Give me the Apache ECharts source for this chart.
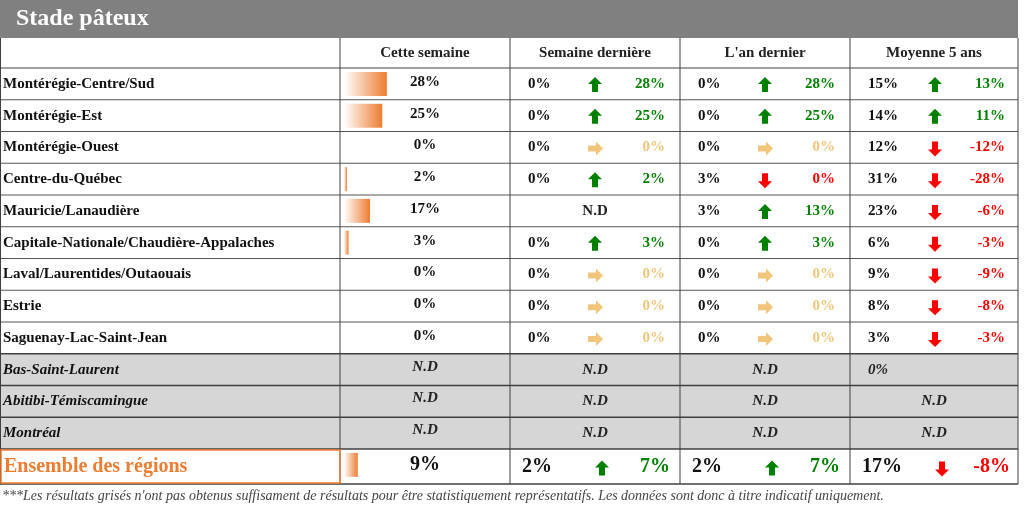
<!DOCTYPE html>
<html><head><meta charset="utf-8">
<script src="https://cdn.jsdelivr.net/npm/echarts@6/dist/echarts.min.js"></script>
<style>html,body{margin:0;padding:0;background:#fff}#c{width:1024px;height:509px}</style>
</head><body><div id="c"></div>
<script>
const regions = ["Montérégie-Centre/Sud","Montérégie-Est","Montérégie-Ouest","Centre-du-Québec","Mauricie/Lanaudière","Capitale-Nationale/Chaudière-Appalaches","Laval/Laurentides/Outaouais","Estrie","Saguenay-Lac-Saint-Jean","Bas-Saint-Laurent","Abitibi-Témiscamingue","Montréal","Ensemble des régions"];
const thisWeek = [28,25,0,2,17,3,0,0,0,null,null,null,9];
const lastWeek = [0,0,0,0,null,0,0,0,0,null,null,null,2];
const diffWeek = [28,25,0,2,null,3,0,0,0,null,null,null,7];
const lastYear = [0,0,0,3,3,0,0,0,0,null,null,null,2];
const diffYear = [28,25,0,0,13,3,0,0,0,null,null,null,7];
const avg5 = [15,14,12,31,23,6,9,8,3,0,null,null,17];
// direction: 1 up, -1 down, 0 flat
const dirWeek = [1,1,0,1,null,1,0,0,0,null,null,null,1];
const dirYear = [1,1,0,-1,1,1,0,0,0,null,null,null,1];
const diff5 = [13,11,-12,-28,-6,-3,-9,-8,-3,null,null,null,-8];
const dir5 = [1,1,-1,-1,-1,-1,-1,-1,-1,null,null,null,-1];
const grayRows = [9,10,11];
const headers = ["Cette semaine","Semaine dernière","L'an dernier","Moyenne 5 ans"];

const chart = echarts.init(document.getElementById('c'));
const F = '"Liberation Serif", "DejaVu Serif", serif';
const colX = [0,340,510,680,850,1018];
const top0 = 38, hdrB = 68, rowH = 31.75;
const rowTop = i => hdrB + i*rowH;
const rowBot = i => i === 12 ? 484 : hdrB + (i+1)*rowH;
const G = [];
const GREEN='#008000', RED='#FF0000', TAN='#F2C57C', ORANGE='#ED7D31';

// title bar
G.push({type:'rect',shape:{x:0,y:0,width:1018,height:top0},style:{fill:'#808080'}});
G.push({type:'text',style:{x:16,y:19,text:'Stade pâteux',fill:'#fff',font:'bold 24px '+F,textVerticalAlign:'middle'}});
// gray rows
grayRows.forEach(i=>G.push({type:'rect',shape:{x:0,y:rowTop(i),width:1018,height:rowBot(i)-rowTop(i)},style:{fill:'#D6D6D6'}}));
// headers
headers.forEach((h,k)=>G.push({type:'text',style:{x:(colX[k+1]+colX[k+2])/2,y:53,text:h,fill:'#222',font:'bold 15px '+F,textAlign:'center',textVerticalAlign:'middle'}}));
// lines
const lineStyle={stroke:'#404040',lineWidth:1};
G.push({type:'line',shape:{x1:0,y1:hdrB,x2:1018,y2:hdrB},style:lineStyle});
for(let i=0;i<13;i++){G.push({type:'line',shape:{x1:0,y1:rowBot(i),x2:1018,y2:rowBot(i)},style:{stroke:i>=8?'#404040':'#555',lineWidth:i>=8?1.5:1}});}
G.push({type:'line',shape:{x1:0.5,y1:top0,x2:0.5,y2:484},style:lineStyle});
G.push({type:'line',shape:{x1:1018,y1:top0,x2:1018,y2:484},style:lineStyle});
colX.slice(1,5).forEach(x=>G.push({type:'line',shape:{x1:x,y1:top0,x2:x,y2:484},style:lineStyle}));
// ensemble orange box
G.push({type:'rect',shape:{x:1,y:rowTop(12)+1,width:339,height:484-rowTop(12)-2},style:{fill:'none',stroke:ORANGE,lineWidth:1.5}});

function arrow(cx,cy,dir,col){
  let pts;
  if(dir===0){pts=[[-7,-3],[1,-3],[1,-7],[8,0],[1,7],[1,3],[-7,3]];}
  else{pts=[[-3,7],[-3,-1],[-7,-1],[0,-8],[7,-1],[3,-1],[3,7]]; if(dir<0) pts=pts.map(p=>[p[0],-p[1]]);}
  G.push({type:'polygon',shape:{points:pts.map(p=>[cx+p[0],cy+p[1]])},style:{fill:col}});
}
const pct=v=>v+'%';
function cmp(k,i,base,diff,dir,big){
  const x0=colX[k], cy=(rowTop(i)+rowBot(i))/2, fs=big?20:15;
  G.push({type:'text',style:{x:x0+(big?12:18),y:cy,text:pct(base),fill:'#111',font:'bold '+fs+'px '+F,textVerticalAlign:'middle'}});
  const col=dir>0?GREEN:dir<0?RED:TAN;
  arrow(x0+(big?92:85),cy+(big?2:1),dir,col);
  G.push({type:'text',style:{x:x0+(big?160:155),y:cy,text:pct(diff),fill:col,font:'bold '+fs+'px '+F,textAlign:'right',textVerticalAlign:'middle'}});
}
function nd(k,i,dy){
  G.push({type:'text',style:{x:(colX[k]+colX[k+1])/2,y:(rowTop(i)+rowBot(i))/2+(dy||0),text:'N.D',fill:'#222',font:(grayRows.includes(i)?'italic ':'')+'bold 15px '+F,textAlign:'center',textVerticalAlign:'middle'}});
}
regions.forEach((r,i)=>{
  const cy=(rowTop(i)+rowBot(i))/2, gray=grayRows.includes(i), big=i===12;
  G.push({type:'text',style:{x:big?4:3,y:cy,text:r,fill:big?ORANGE:'#111',font:(gray?'italic ':'')+'bold '+(big?20:15)+'px '+F,textVerticalAlign:'middle'}});
  if(thisWeek[i]==null) nd(1,i,-3);
  else G.push({type:'text',style:{x:425,y:cy-2,text:pct(thisWeek[i]),fill:'#111',font:'bold '+(big?20:15)+'px '+F,textAlign:'center',textVerticalAlign:'middle'}});
  if(lastWeek[i]==null) nd(2,i); else cmp(2,i,lastWeek[i],diffWeek[i],dirWeek[i],big);
  if(lastYear[i]==null) nd(3,i); else cmp(3,i,lastYear[i],diffYear[i],dirYear[i],big);
  if(avg5[i]==null) nd(4,i);
  else if(diff5[i]==null) G.push({type:'text',style:{x:868,y:cy,text:pct(avg5[i]),fill:'#222',font:'italic bold 15px '+F,textVerticalAlign:'middle'}});
  else cmp(4,i,avg5[i],diff5[i],dir5[i],big);
});
G.push({type:'text',style:{x:2,y:496,text:"***Les résultats grisés n'ont pas obtenus suffisament de résultats pour être statistiquement représentatifs. Les données sont donc à titre indicatif uniquement.",fill:'#444',font:'italic 14px '+F,textVerticalAlign:'middle'}});

chart.setOption({
  animation:false,
  grid:{left:344,top:hdrB,width:153,height:13*rowH},
  xAxis:{type:'value',min:0,max:100,show:false},
  yAxis:{type:'category',inverse:true,data:regions,show:false},
  series:[{type:'bar',data:thisWeek.map(v=>v==null?null:v),barWidth:24,z:1,
    itemStyle:{color:new echarts.graphic.LinearGradient(0,0,1,0,[{offset:0,color:'#FFFFFF'},{offset:1,color:ORANGE}])}}],
  graphic:G
});
</script></body></html>
